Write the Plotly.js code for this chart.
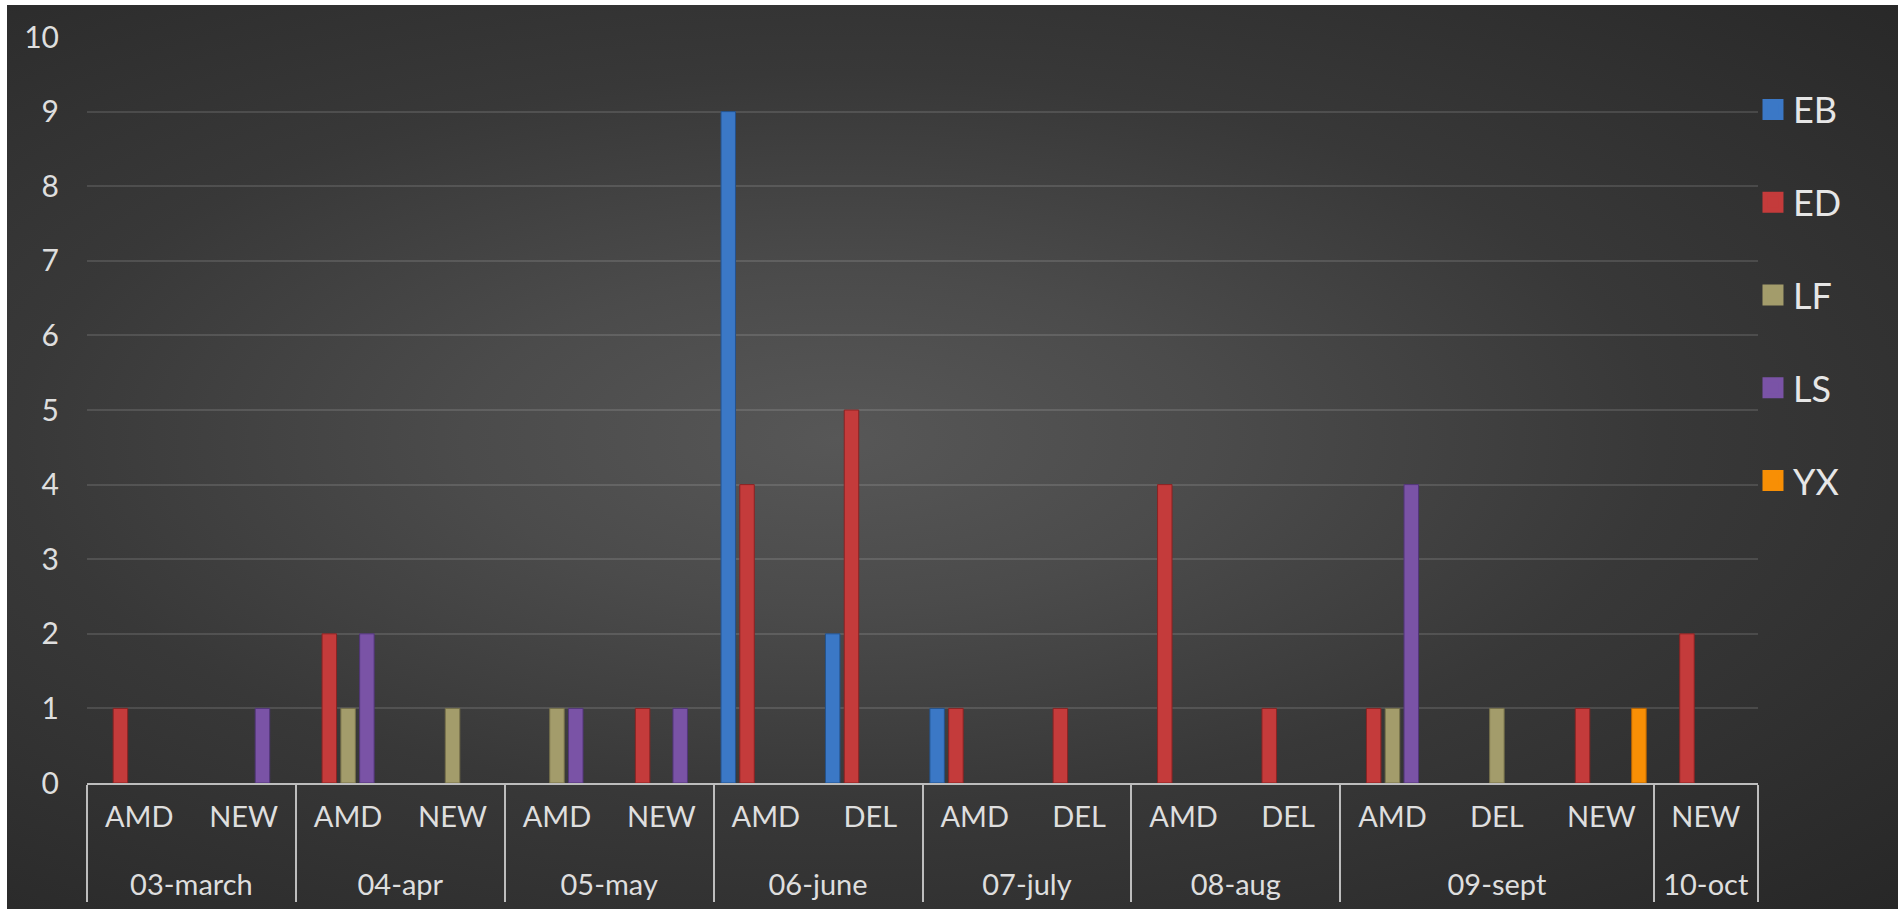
<!DOCTYPE html>
<html>
<head>
<meta charset="utf-8">
<script src="https://cdn.plot.ly/plotly-3.0.1.min.js"></script>
<style>
  html, body { margin: 0; padding: 0; background: #ffffff; width: 1898px; height: 909px; overflow: hidden; }
  #chart {
    position: absolute; left: 7px; top: 5px; width: 1891px; height: 904px;
    background: radial-gradient(ellipse farthest-corner at 44% 48%, #575757 0%, #4b4b4b 25%, #383838 55%, #272727 100%);
  }
</style>
</head>
<body>
<div id="chart"></div>
<script>
// Category levels
const months = ['03-march','03-march','04-apr','04-apr','05-may','05-may','06-june','06-june',
                '07-july','07-july','08-aug','08-aug','09-sept','09-sept','09-sept','10-oct'];
const types  = ['AMD','NEW','AMD','NEW','AMD','NEW','AMD','DEL',
                'AMD','DEL','AMD','DEL','AMD','DEL','NEW','NEW'];
// order of the second-level labels inside each month
const typeOrder = ['AMD','DEL','NEW'];

// Series values (null = no bar)
const EB = [null,null,null,null,null,null,9,2,1,null,null,null,null,null,null,null];
const ED = [1,null,2,null,null,1,4,5,1,1,4,1,1,null,1,2];
const LF = [null,null,1,1,1,null,null,null,null,null,null,null,1,1,null,null];
const LS = [null,1,2,null,1,1,null,null,null,null,null,null,4,null,null,null];
const YX = [null,null,null,null,null,null,null,null,null,null,null,null,null,null,1,null];

const seriesNames = ['EB','ED','LF','LS','YX'];
const seriesData = [EB, ED, LF, LS, YX];
const colors = ['#3b78c6','#c43b3b','#a39c6b','#7a53a6','#f88f05'];
const edgeColors = ['#24528c','#8a2323','#77714a','#52367a','#b86400'];

// group labels get a leading blank line so the second row sits lower, as in the reference
const groupLabels = months.map(m => '<br>' + m);

// Plotly orders multicategory levels by first appearance: an empty helper trace
// lists the categories so that months keep their order and AMD < DEL < NEW.
const idx = months.map((_, i) => i).sort((a, b) =>
  (typeOrder.indexOf(types[a]) - typeOrder.indexOf(types[b])) || (a - b));
const traces = [{
  type: 'scatter', mode: 'markers', x: [idx.map(i => groupLabels[i]), idx.map(i => types[i])],
  y: idx.map(() => null), showlegend: false, hoverinfo: 'skip'
}];

seriesNames.forEach((n, i) => {
  traces.push({
    type: 'bar', name: n, x: [groupLabels, types], y: seriesData[i],
    marker: { color: colors[i], line: { color: edgeColors[i], width: 1 } },
    showlegend: false, hoverinfo: 'y+name'
  });
});
seriesNames.forEach((n, i) => {
  traces.push({
    type: 'scatter', mode: 'markers', name: n, legendgroup: n,
    x: [[groupLabels[0]],[types[0]]], y: [null],
    marker: { symbol: 'square', size: 16, color: colors[i], line: { color: colors[i], width: 5 } },
    showlegend: true, hoverinfo: 'skip'
  });
});

const fontFam = 'Lato, "Open Sans", sans-serif';
const xFont = { family: fontFam, size: 29, color: '#dedede' };
const yFont = { family: fontFam, size: 30, color: '#dedede' };

const layout = {
  width: 1891, height: 904,
  paper_bgcolor: 'rgba(0,0,0,0)', plot_bgcolor: 'rgba(0,0,0,0)',
  margin: { l: 80, r: 140, t: 32, b: 126, pad: 0 },
  barmode: 'group', bargap: 0.1, bargroupgap: 0.23,
  font: xFont,
  xaxis: {
    type: 'multicategory',
    range: [-0.5, months.length - 0.5], autorange: false,
    showline: true, linecolor: '#bdbdbd', linewidth: 2,
    showgrid: false, zeroline: false, ticks: '',
    showdividers: true, dividercolor: '#bdbdbd', dividerwidth: 2,
    ticklabelstandoff: 7,
    tickfont: xFont, automargin: false
  },
  yaxis: {
    range: [0, 10], dtick: 1, tick0: 0, autorange: false,
    showgrid: true, gridcolor: 'rgba(255,255,255,0.12)', gridwidth: 2,
    zeroline: false, showline: false, ticks: '',
    ticklabelstandoff: 27,
    tickfont: yFont, automargin: false
  },
  legend: {
    x: 0.997, xanchor: 'left', y: 0.943, yanchor: 'top',
    bgcolor: 'rgba(0,0,0,0)', borderwidth: 0,
    font: { family: fontFam, size: 36, color: '#e6e6e6' },
    tracegroupgap: 43, itemsizing: 'trace'
  },
  showlegend: true
};

Plotly.newPlot('chart', traces, layout, { displayModeBar: false, staticPlot: true });
</script>
</body>
</html>
